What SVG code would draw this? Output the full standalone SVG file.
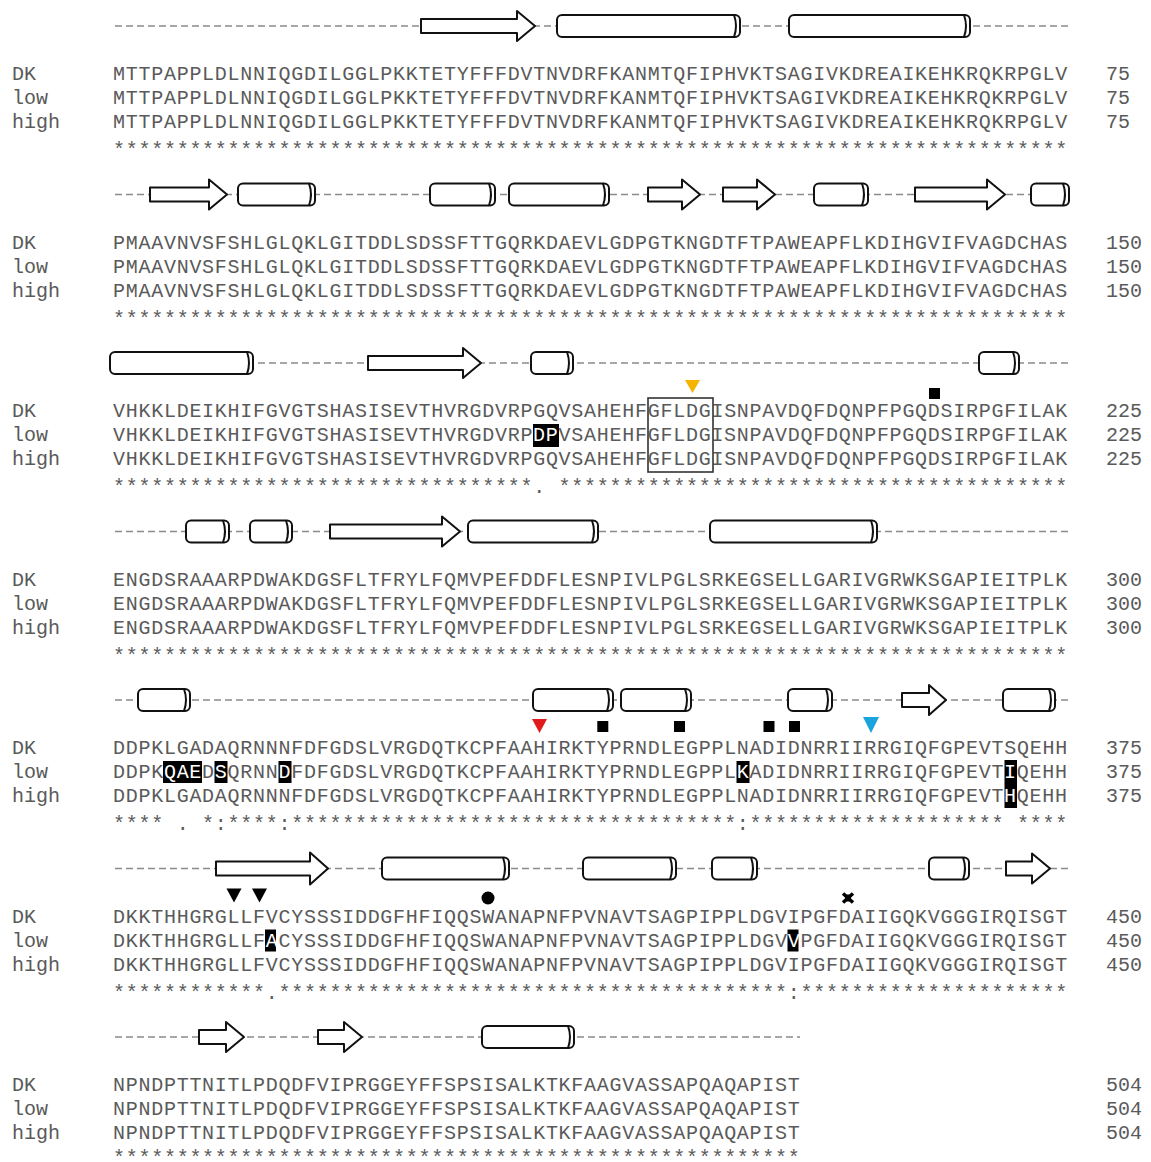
<svg xmlns="http://www.w3.org/2000/svg" width="1151" height="1162" viewBox="0 0 1151 1162">
<style>
.t{font-family:"Liberation Mono","DejaVu Sans Mono",monospace;font-size:20px;fill:#5a5a5a;letter-spacing:0.73px;white-space:pre}
.lb{font-family:"Liberation Mono","DejaVu Sans Mono",monospace;font-size:20px;fill:#5a5a5a;white-space:pre}
.w{font-family:"Liberation Mono","DejaVu Sans Mono",monospace;font-size:20px;fill:#fff;letter-spacing:0.73px;white-space:pre}
.dash{stroke:#8a8a8a;stroke-width:1.5;stroke-dasharray:7 4;fill:none}
.ss rect,.ss path{fill:#fff;stroke:#111;stroke-width:2;stroke-linejoin:round}
.hl{fill:#000}
.box{fill:none;stroke:#333;stroke-width:1.6}
</style>
<rect width="1151" height="1162" fill="#fff"/>

<!-- Block 1 -->
<g id="block1" transform="translate(0,74)">
<g class="ss">
<line class="dash" x1="115" y1="-48" x2="1068" y2="-48"/>
<path d="M421 -55 H517 V-63 L535 -48 L517 -33 V-41 H421 Z"/>
<rect x="557" y="-59" width="183" height="22" rx="5"/><path d="M734 -59 Q738 -48 734 -37"/>
<rect x="789" y="-59" width="181" height="22" rx="5"/><path d="M964 -59 Q968 -48 964 -37"/>
</g>
<text class="lb" x="12" y="6">DK</text><text class="lb" x="12" y="30">low</text><text class="lb" x="12" y="54">high</text>
<text class="t" x="113" y="6">MTTPAPPLDLNNIQGDILGGLPKKTETYFFFDVTNVDRFKANMTQFIPHVKTSAGIVKDREAIKEHKRQKRPGLV</text>
<text class="t" x="113" y="30">MTTPAPPLDLNNIQGDILGGLPKKTETYFFFDVTNVDRFKANMTQFIPHVKTSAGIVKDREAIKEHKRQKRPGLV</text>
<text class="t" x="113" y="54">MTTPAPPLDLNNIQGDILGGLPKKTETYFFFDVTNVDRFKANMTQFIPHVKTSAGIVKDREAIKEHKRQKRPGLV</text>
<text class="t" x="113" y="82">***************************************************************************</text>
<text class="lb" x="1106" y="6">75</text><text class="lb" x="1106" y="30">75</text><text class="lb" x="1106" y="54">75</text>
</g>

<!-- Block 2 -->
<g id="block2" transform="translate(0,242.5)">
<g class="ss">
<line class="dash" x1="115" y1="-48" x2="1068" y2="-48"/>
<path d="M150 -55 H209 V-63 L227 -48 L209 -33 V-41 H150 Z"/>
<rect x="238" y="-59" width="77" height="22" rx="5"/><path d="M309 -59 Q313 -48 309 -37"/>
<rect x="430" y="-59" width="65" height="22" rx="5"/><path d="M489 -59 Q493 -48 489 -37"/>
<rect x="509" y="-59" width="100" height="22" rx="5"/><path d="M603 -59 Q607 -48 603 -37"/>
<path d="M648 -55 H682 V-63 L700 -48 L682 -33 V-41 H648 Z"/>
<path d="M723 -55 H757 V-63 L775 -48 L757 -33 V-41 H723 Z"/>
<rect x="814" y="-59" width="54" height="22" rx="5"/><path d="M862 -59 Q866 -48 862 -37"/>
<path d="M915 -55 H987 V-63 L1005 -48 L987 -33 V-41 H915 Z"/>
<rect x="1031" y="-59" width="38" height="22" rx="5"/><path d="M1063 -59 Q1067 -48 1063 -37"/>
</g>
<text class="lb" x="12" y="6">DK</text><text class="lb" x="12" y="30">low</text><text class="lb" x="12" y="54">high</text>
<text class="t" x="113" y="6">PMAAVNVSFSHLGLQKLGITDDLSDSSFTTGQRKDAEVLGDPGTKNGDTFTPAWEAPFLKDIHGVIFVAGDCHAS</text>
<text class="t" x="113" y="30">PMAAVNVSFSHLGLQKLGITDDLSDSSFTTGQRKDAEVLGDPGTKNGDTFTPAWEAPFLKDIHGVIFVAGDCHAS</text>
<text class="t" x="113" y="54">PMAAVNVSFSHLGLQKLGITDDLSDSSFTTGQRKDAEVLGDPGTKNGDTFTPAWEAPFLKDIHGVIFVAGDCHAS</text>
<text class="t" x="113" y="82">***************************************************************************</text>
<text class="lb" x="1106" y="6">150</text><text class="lb" x="1106" y="30">150</text><text class="lb" x="1106" y="54">150</text>
</g>

<!-- Block 3 -->
<g id="block3" transform="translate(0,411)">
<g class="ss">
<line class="dash" x1="115" y1="-48" x2="1068" y2="-48"/>
<rect x="110" y="-59" width="143" height="22" rx="5"/><path d="M247 -59 Q251 -48 247 -37"/>
<path d="M368 -55 H463 V-63 L481 -48 L463 -33 V-41 H368 Z"/>
<rect x="531" y="-59" width="42" height="22" rx="5"/><path d="M567 -59 Q571 -48 567 -37"/>
<rect x="979" y="-59" width="40" height="22" rx="5"/><path d="M1013 -59 Q1017 -48 1013 -37"/>
</g>
<g id="marks3">
<path d="M685 -31 H700 L692.5 -18 Z" fill="#f5b400"/>
<rect x="929" y="-23" width="11" height="11" fill="#000"/>
</g>
<rect class="hl" x="533" y="13" width="26" height="23"/>
<text class="lb" x="12" y="6">DK</text><text class="lb" x="12" y="30">low</text><text class="lb" x="12" y="54">high</text>
<text class="t" x="113" y="6">VHKKLDEIKHIFGVGTSHASISEVTHVRGDVRPGQVSAHEHFGFLDGISNPAVDQFDQNPFPGQDSIRPGFILAK</text>
<text class="t" x="113" y="30">VHKKLDEIKHIFGVGTSHASISEVTHVRGDVRP</text>
<text class="w" x="533.1" y="30">DP</text>
<text class="t" x="558.6" y="30">VSAHEHFGFLDGISNPAVDQFDQNPFPGQDSIRPGFILAK</text>
<text class="t" x="113" y="54">VHKKLDEIKHIFGVGTSHASISEVTHVRGDVRPGQVSAHEHFGFLDGISNPAVDQFDQNPFPGQDSIRPGFILAK</text>
<text class="t" x="113" y="82">*********************************. ****************************************</text>
<rect class="box" x="648" y="-13" width="65" height="74"/>
<text class="lb" x="1106" y="6">225</text><text class="lb" x="1106" y="30">225</text><text class="lb" x="1106" y="54">225</text>
</g>

<!-- Block 4 -->
<g id="block4" transform="translate(0,579.5)">
<g class="ss">
<line class="dash" x1="115" y1="-48" x2="1068" y2="-48"/>
<rect x="186" y="-59" width="43" height="22" rx="5"/><path d="M223 -59 Q227 -48 223 -37"/>
<rect x="250" y="-59" width="42" height="22" rx="5"/><path d="M286 -59 Q290 -48 286 -37"/>
<path d="M330 -55 H442 V-63 L460 -48 L442 -33 V-41 H330 Z"/>
<rect x="468" y="-59" width="130" height="22" rx="5"/><path d="M592 -59 Q596 -48 592 -37"/>
<rect x="710" y="-59" width="167" height="22" rx="5"/><path d="M871 -59 Q875 -48 871 -37"/>
</g>
<text class="lb" x="12" y="6">DK</text><text class="lb" x="12" y="30">low</text><text class="lb" x="12" y="54">high</text>
<text class="t" x="113" y="6">ENGDSRAAARPDWAKDGSFLTFRYLFQMVPEFDDFLESNPIVLPGLSRKEGSELLGARIVGRWKSGAPIEITPLK</text>
<text class="t" x="113" y="30">ENGDSRAAARPDWAKDGSFLTFRYLFQMVPEFDDFLESNPIVLPGLSRKEGSELLGARIVGRWKSGAPIEITPLK</text>
<text class="t" x="113" y="54">ENGDSRAAARPDWAKDGSFLTFRYLFQMVPEFDDFLESNPIVLPGLSRKEGSELLGARIVGRWKSGAPIEITPLK</text>
<text class="t" x="113" y="82">***************************************************************************</text>
<text class="lb" x="1106" y="6">300</text><text class="lb" x="1106" y="30">300</text><text class="lb" x="1106" y="54">300</text>
</g>

<!-- Block 5 -->
<g id="block5" transform="translate(0,748)">
<g class="ss">
<line class="dash" x1="115" y1="-48" x2="1068" y2="-48"/>
<rect x="138" y="-59" width="52" height="22" rx="5"/><path d="M184 -59 Q188 -48 184 -37"/>
<rect x="533" y="-59" width="80" height="22" rx="5"/><path d="M607 -59 Q611 -48 607 -37"/>
<rect x="621" y="-59" width="70" height="22" rx="5"/><path d="M685 -59 Q689 -48 685 -37"/>
<rect x="788" y="-59" width="44" height="22" rx="5"/><path d="M826 -59 Q830 -48 826 -37"/>
<path d="M902 -55 H929 V-63 L946 -48 L929 -33 V-41 H902 Z"/>
<rect x="1003" y="-59" width="52" height="22" rx="5"/><path d="M1049 -59 Q1053 -48 1049 -37"/>
</g>
<g id="marks5">
<path d="M532 -29 H547 L539.5 -15 Z" fill="#e01b1b"/>
<rect x="597.3" y="-27" width="11" height="11" fill="#000"/>
<rect x="674" y="-27" width="11" height="11" fill="#000"/>
<rect x="763.5" y="-27" width="11" height="11" fill="#000"/>
<rect x="789" y="-27" width="11" height="11" fill="#000"/>
<path d="M863 -31 H879 L871 -15 Z" fill="#1aa3dc"/>
</g>
<rect class="hl" x="163" y="13" width="39" height="22"/>
<rect class="hl" x="214.5" y="13" width="13" height="22"/>
<rect class="hl" x="278.5" y="13" width="13" height="22"/>
<rect class="hl" x="736.5" y="13" width="13" height="22"/>
<rect class="hl" x="1004.5" y="12" width="12.5" height="48"/>
<text class="lb" x="12" y="6">DK</text><text class="lb" x="12" y="30">low</text><text class="lb" x="12" y="54">high</text>
<text class="t" x="113" y="6">DDPKLGADAQRNNNFDFGDSLVRGDQTKCPFAAHIRKTYPRNDLEGPPLNADIDNRRIIRRGIQFGPEVTSQEHH</text>
<text class="t" x="113" y="30">DDPK</text>
<text class="w" x="163.92" y="30">QAE</text>
<text class="t" x="202.11" y="30">D</text>
<text class="w" x="214.84" y="30">S</text>
<text class="t" x="227.57" y="30">QRNN</text>
<text class="w" x="278.49" y="30">D</text>
<text class="t" x="291.22" y="30">FDFGDSLVRGDQTKCPFAAHIRKTYPRNDLEGPPL</text>
<text class="w" x="736.77" y="30">K</text>
<text class="t" x="749.5" y="30">ADIDNRRIIRRGIQFGPEVT</text>
<text class="w" x="1004.1" y="30">I</text>
<text class="t" x="1016.83" y="30">QEHH</text>
<text class="t" x="113" y="54">DDPKLGADAQRNNNFDFGDSLVRGDQTKCPFAAHIRKTYPRNDLEGPPLNADIDNRRIIRRGIQFGPEVT</text>
<text class="w" x="1004.1" y="54">H</text>
<text class="t" x="1016.83" y="54">QEHH</text>
<text class="t" x="113" y="82">**** . *:****:***********************************:******************** ****</text>
<text class="lb" x="1106" y="6">375</text><text class="lb" x="1106" y="30">375</text><text class="lb" x="1106" y="54">375</text>
</g>

<!-- Block 6 -->
<g id="block6" transform="translate(0,916.5)">
<g class="ss">
<line class="dash" x1="115" y1="-48" x2="1068" y2="-48"/>
<path d="M216 -55 H310 V-64 L328 -48 L310 -32 V-41 H216 Z"/>
<rect x="382" y="-59" width="127" height="22" rx="5"/><path d="M503 -59 Q507 -48 503 -37"/>
<rect x="583" y="-59" width="93" height="22" rx="5"/><path d="M670 -59 Q674 -48 670 -37"/>
<rect x="712" y="-59" width="45" height="22" rx="5"/><path d="M751 -59 Q755 -48 751 -37"/>
<rect x="929" y="-59" width="40" height="22" rx="5"/><path d="M963 -59 Q967 -48 963 -37"/>
<path d="M1006 -55 H1032 V-63 L1050 -48 L1032 -33 V-41 H1006 Z"/>
</g>
<g id="marks6">
<path d="M226.5 -28 H241.5 L234 -14 Z" fill="#000"/>
<path d="M252 -28 H267 L259.5 -14 Z" fill="#000"/>
<circle cx="488" cy="-18.5" r="6.5" fill="#000"/>
<path d="M843 -23 L853 -14 M853 -23 L843 -14" stroke="#000" stroke-width="3.5"/>
<rect x="845" y="-22" width="6" height="7" fill="#000"/>
</g>
<rect class="hl" x="265" y="13" width="11" height="22"/>
<rect class="hl" x="787.5" y="13" width="11" height="22"/>
<text class="lb" x="12" y="6">DK</text><text class="lb" x="12" y="30">low</text><text class="lb" x="12" y="54">high</text>
<text class="t" x="113" y="6">DKKTHHGRGLLFVCYSSSIDDGFHFIQQSWANAPNFPVNAVTSAGPIPPLDGVIPGFDAIIGQKVGGGIRQISGT</text>
<text class="t" x="113" y="30">DKKTHHGRGLLF</text>
<text class="w" x="265.76" y="30">A</text>
<text class="t" x="278.49" y="30">CYSSSIDDGFHFIQQSWANAPNFPVNAVTSAGPIPPLDGV</text>
<text class="w" x="787.69" y="30">V</text>
<text class="t" x="800.42" y="30">PGFDAIIGQKVGGGIRQISGT</text>
<text class="t" x="113" y="54">DKKTHHGRGLLFVCYSSSIDDGFHFIQQSWANAPNFPVNAVTSAGPIPPLDGVIPGFDAIIGQKVGGGIRQISGT</text>
<text class="t" x="113" y="82">************.****************************************:*********************</text>
<text class="lb" x="1106" y="6">450</text><text class="lb" x="1106" y="30">450</text><text class="lb" x="1106" y="54">450</text>
</g>

<!-- Block 7 -->
<g id="block7" transform="translate(0,1085)">
<g class="ss">
<line class="dash" x1="115" y1="-48" x2="800" y2="-48"/>
<path d="M199 -55 H226 V-63 L244 -48 L226 -33 V-41 H199 Z"/>
<path d="M318 -55 H344 V-63 L362 -48 L344 -33 V-41 H318 Z"/>
<rect x="482" y="-59" width="92" height="22" rx="5"/><path d="M568 -59 Q572 -48 568 -37"/>
</g>
<text class="lb" x="12" y="6">DK</text><text class="lb" x="12" y="30">low</text><text class="lb" x="12" y="54">high</text>
<text class="t" x="113" y="6">NPNDPTTNITLPDQDFVIPRGGEYFFSPSISALKTKFAAGVASSAPQAQAPIST</text>
<text class="t" x="113" y="30">NPNDPTTNITLPDQDFVIPRGGEYFFSPSISALKTKFAAGVASSAPQAQAPIST</text>
<text class="t" x="113" y="54">NPNDPTTNITLPDQDFVIPRGGEYFFSPSISALKTKFAAGVASSAPQAQAPIST</text>
<text class="t" x="113" y="79">******************************************************</text>
<text class="lb" x="1106" y="6">504</text><text class="lb" x="1106" y="30">504</text><text class="lb" x="1106" y="54">504</text>
</g>
</svg>
